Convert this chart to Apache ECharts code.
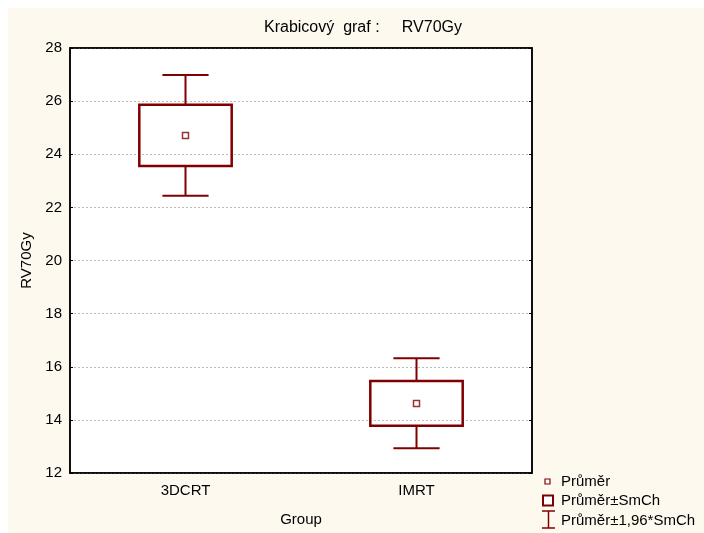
<!DOCTYPE html>
<html>
<head>
<meta charset="utf-8">
<script src="https://cdn.jsdelivr.net/npm/echarts@6/dist/echarts.min.js"></script>
<style>
  html, body { margin: 0; padding: 0; background: #ffffff; }
  #chart { position: absolute; left: 8px; top: 8px; width: 696px; height: 525px; }
</style>
</head>
<body>
<div id="chart"></div>
<script>
// Box plot of RV70Gy by treatment group: mean, mean ± SE, mean ± 1.96*SE
const groups = ['3DCRT', 'IMRT'];
const means = [24.71, 14.62];
const seLow = [23.56, 13.78];
const seHigh = [25.86, 15.46];
const ciLow = [22.44, 12.93];
const ciHigh = [26.98, 16.32];
const yTicks = [12, 14, 16, 18, 20, 22, 24, 26, 28];

const legendLabels = ['Průměr', 'Průměr±SmCh', 'Průměr±1,96*SmCh'];

const RED = '#800000';
const FONT = '"Liberation Sans", Arial, sans-serif';

const chart = echarts.init(document.getElementById('chart'), null, { renderer: 'canvas' });

const boxData = groups.map((g, i) => [i, seLow[i], seHigh[i]]);
const whiskerData = groups.map((g, i) => [i, ciLow[i], ciHigh[i], seLow[i], seHigh[i]]);
const meanData = groups.map((g, i) => [i, means[i]]);

const axisText = { color: '#000', fontFamily: FONT, fontSize: 15 };

const option = {
  backgroundColor: '#fdf9ef',
  animation: false,
  grid: {
    left: 62, top: 40, width: 462, height: 425,
    show: true, backgroundColor: '#ffffff', borderColor: '#000', borderWidth: 1.5
  },
  xAxis: [
    {
      type: 'category', data: groups, position: 'bottom',
      name: 'Group', nameLocation: 'middle', nameGap: 39,
      nameTextStyle: axisText,
      axisLine: { lineStyle: { color: '#000', width: 1.5 } },
      axisTick: { inside: true, alignWithLabel: true, length: 3, lineStyle: { color: '#000' } },
      axisLabel: Object.assign({ margin: 10 }, axisText),
      splitLine: { show: false }
    },
    {
      type: 'category', data: groups, position: 'top',
      axisLine: { lineStyle: { color: '#000', width: 1.5 } },
      axisTick: { inside: true, alignWithLabel: true, length: 3, lineStyle: { color: '#000' } },
      axisLabel: { show: false },
      splitLine: { show: false }
    }
  ],
  yAxis: [
    {
      type: 'value', min: yTicks[0], max: yTicks[yTicks.length - 1], interval: 2,
      name: 'RV70Gy', nameLocation: 'middle', nameGap: 29, nameRotate: 90,
      nameTextStyle: axisText,
      axisLine: { show: true, lineStyle: { color: '#000', width: 1.5 } },
      axisTick: { show: true, inside: true, length: 3, lineStyle: { color: '#000' } },
      axisLabel: Object.assign({ margin: 8 }, axisText),
      splitLine: { show: true, lineStyle: { color: '#bdbdbd', width: 1, type: [2, 2] } }
    },
    {
      type: 'value', min: yTicks[0], max: yTicks[yTicks.length - 1], interval: 2,
      position: 'right',
      axisLine: { show: true, lineStyle: { color: '#000', width: 1.5 } },
      axisTick: { show: true, inside: true, length: 3, lineStyle: { color: '#000' } },
      axisLabel: { show: false },
      splitLine: { show: false }
    }
  ],
  series: [
    {
      // 1.96*SE whiskers with caps
      name: legendLabels[2],
      type: 'custom',
      data: whiskerData,
      encode: { x: 0, y: [1, 2] },
      renderItem: function (params, api) {
        const idx = api.value(0);
        const lo = api.coord([idx, api.value(1)]);
        const hi = api.coord([idx, api.value(2)]);
        const bLo = api.coord([idx, api.value(3)]);
        const bHi = api.coord([idx, api.value(4)]);
        const band = api.size([1, 0])[0];
        const half = band * 0.1;
        const style = { stroke: RED, lineWidth: 2, fill: null };
        return {
          type: 'group',
          children: [
            { type: 'line', shape: { x1: hi[0] - half, y1: hi[1], x2: hi[0] + half, y2: hi[1] }, style: style },
            { type: 'line', shape: { x1: hi[0], y1: hi[1], x2: bHi[0], y2: bHi[1] }, style: style },
            { type: 'line', shape: { x1: lo[0] - half, y1: lo[1], x2: lo[0] + half, y2: lo[1] }, style: style },
            { type: 'line', shape: { x1: lo[0], y1: lo[1], x2: bLo[0], y2: bLo[1] }, style: style }
          ]
        };
      },
      z: 3
    },
    {
      // mean ± SE boxes
      name: legendLabels[1],
      type: 'custom',
      data: boxData,
      encode: { x: 0, y: [1, 2] },
      renderItem: function (params, api) {
        const idx = api.value(0);
        const lo = api.coord([idx, api.value(1)]);
        const hi = api.coord([idx, api.value(2)]);
        const band = api.size([1, 0])[0];
        const half = band * 0.2;
        return {
          type: 'rect',
          shape: { x: lo[0] - half, y: hi[1], width: half * 2, height: lo[1] - hi[1] },
          style: { stroke: RED, lineWidth: 2.5, fill: 'rgba(0,0,0,0)' }
        };
      },
      z: 4
    },
    {
      // group means
      name: legendLabels[0],
      type: 'scatter',
      data: meanData,
      symbol: 'rect',
      symbolSize: 6,
      itemStyle: { color: '#ffffff', borderColor: RED, borderWidth: 1.5 },
      z: 5
    }
  ],
  graphic: [
    {
      type: 'text', x: 256, y: 20,
      style: { text: 'Krabicový  graf :     RV70Gy', fill: '#000', font: '16px ' + FONT, verticalAlign: 'middle' }
    },
    // legend: mean marker
    { type: 'rect', shape: { x: 537, y: 471, width: 5, height: 5 },
      style: { stroke: RED, fill: '#fff', lineWidth: 1.2 } },
    { type: 'text', x: 553, y: 474, style: { text: legendLabels[0], fill: '#000', font: '15px ' + FONT, verticalAlign: 'middle' } },
    // legend: SE box
    { type: 'rect', shape: { x: 535, y: 487.5, width: 10, height: 10 },
      style: { stroke: RED, fill: '#fff', lineWidth: 2 } },
    { type: 'text', x: 553, y: 493, style: { text: legendLabels[1], fill: '#000', font: '15px ' + FONT, verticalAlign: 'middle' } },
    // legend: 1.96*SE bar
    { type: 'line', shape: { x1: 534, y1: 503, x2: 547, y2: 503 }, style: { stroke: RED, lineWidth: 1.5 } },
    { type: 'line', shape: { x1: 540.5, y1: 503, x2: 540.5, y2: 520 }, style: { stroke: RED, lineWidth: 1.5 } },
    { type: 'line', shape: { x1: 534, y1: 520, x2: 547, y2: 520 }, style: { stroke: RED, lineWidth: 1.5 } },
    { type: 'text', x: 553, y: 513, style: { text: legendLabels[2], fill: '#000', font: '15px ' + FONT, verticalAlign: 'middle' } }
  ]
};

chart.setOption(option);
</script>
</body>
</html>
